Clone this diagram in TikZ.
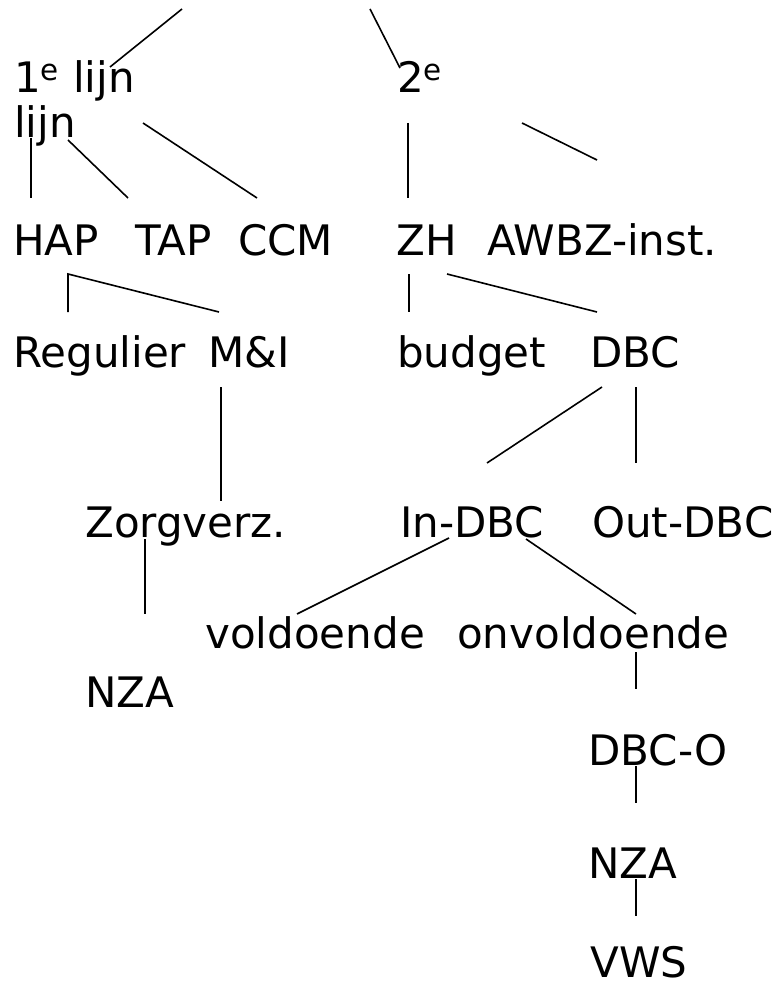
\documentclass[tikz,border=0pt]{standalone}
\usepackage{fontspec}
\setmainfont{DejaVu Sans}
\usepackage{tikz}
\usetikzlibrary{calc}

\begin{document}
\begin{tikzpicture}[x=0.75pt,y=-0.75pt,
		lbl/.style={anchor=base west, inner sep=0pt, font=\fontsize{31.5}{33.75}\selectfont},
		tak/.style={line width=1.2pt, line cap=butt}]
	\useasboundingbox (0,0) rectangle (778,984);
	
	% lijnen
	\node[lbl, align=left] (eerste) at (14,138) {1\textsuperscript{e} lijn\\lijn};
	\node[lbl] (tweede) at (397,93) {2\textsuperscript{e}};
	
	% eerste lijn
	\node[lbl] (hap) at (13,255) {HAP};
	\node[lbl] (tap) at (135,255) {TAP};
	\node[lbl] (ccm) at (238,255) {CCM};
	\node[lbl] (regulier) at (13,367) {Regulier};
	\node[lbl] (mi) at (208,367) {M\&I};
	\node[lbl] (zorgverz) at (85,537) {Zorgverz.};
	\node[lbl] (nza1) at (85,707) {NZA};
	
	% tweede lijn
	\node[lbl] (zh) at (396,255) {ZH};
	\node[lbl] (awbz) at (487,255) {AWBZ-inst.};
	\node[lbl] (budget) at (397,367) {budget};
	\node[lbl] (dbc) at (590,367) {DBC};
	\node[lbl] (indbc) at (400,537) {In-DBC};
	\node[lbl] (outdbc) at (592,537) {Out-DBC};
	\node[lbl] (voldoende) at (205,648) {voldoende};
	\node[lbl] (onvoldoende) at (457,648) {onvoldoende};
	\node[lbl] (dbco) at (588,765) {DBC-O};
	\node[lbl] (nza2) at (588,878) {NZA};
	\node[lbl] (vws) at (590,977) {VWS};
	
	% eindpunten van de lijnen
	\coordinate (top-a) at (182,9);   \coordinate (eerste-up) at (110,67);
	\coordinate (top-b) at (370,9);   \coordinate (tweede-up) at (400,68);
	\coordinate (eerste-a) at (31,138);  \coordinate (hap-up) at (31,198);
	\coordinate (eerste-b) at (68,140);  \coordinate (tap-up) at (128,198);
	\coordinate (eerste-c) at (143,123); \coordinate (ccm-up) at (257,198);
	\coordinate (tweede-a) at (408,123); \coordinate (zh-up) at (408,198);
	\coordinate (tweede-b) at (522,123); \coordinate (awbz-up) at (597,160);
	\coordinate (hap-dn) at (68,274);    \coordinate (regulier-up) at (68,312);
	\coordinate (mi-up) at (219,312);
	\coordinate (zh-dn) at (409,274);    \coordinate (budget-up) at (409,312);
	\coordinate (zh-dn2) at (447,274);   \coordinate (dbc-up) at (597,312);
	\coordinate (mi-dn) at (221,387);    \coordinate (zorgverz-up) at (221,501);
	\coordinate (dbc-dn) at (602,387);   \coordinate (indbc-up) at (487,463);
	\coordinate (dbc-dn2) at (636,387);  \coordinate (outdbc-up) at (636,463);
	\coordinate (zorgverz-dn) at (145,539); \coordinate (nza1-up) at (145,614);
	\coordinate (indbc-dn) at (449,538);    \coordinate (voldoende-up) at (297,614);
	\coordinate (indbc-dn2) at (526,539);   \coordinate (onvoldoende-up) at (636,614);
	\coordinate (onvoldoende-dn) at (636,652); \coordinate (dbco-up) at (636,689);
	\coordinate (dbco-dn) at (636,766);     \coordinate (nza2-up) at (636,803);
	\coordinate (nza2-dn) at (636,879);     \coordinate (vws-up) at (636,916);
	
	\draw[tak] (top-a) -- (eerste-up);
	\draw[tak] (top-b) -- (tweede-up);
	\draw[tak] (eerste-a) -- (hap-up);
	\draw[tak] (eerste-b) -- (tap-up);
	\draw[tak] (eerste-c) -- (ccm-up);
	\draw[tak] (tweede-a) -- (zh-up);
	\draw[tak] (tweede-b) -- (awbz-up);
	\draw[tak] (regulier-up) -- (hap-dn) -- (mi-up);
	\draw[tak] (zh-dn) -- (budget-up);
	\draw[tak] (zh-dn2) -- (dbc-up);
	\draw[tak] (mi-dn) -- (zorgverz-up);
	\draw[tak] (dbc-dn) -- (indbc-up);
	\draw[tak] (dbc-dn2) -- (outdbc-up);
	\draw[tak] (zorgverz-dn) -- (nza1-up);
	\draw[tak] (indbc-dn) -- (voldoende-up);
	\draw[tak] (indbc-dn2) -- (onvoldoende-up);
	\draw[tak] (onvoldoende-dn) -- (dbco-up);
	\draw[tak] (dbco-dn) -- (nza2-up);
	\draw[tak] (nza2-dn) -- (vws-up);
\end{tikzpicture}
\end{document}
